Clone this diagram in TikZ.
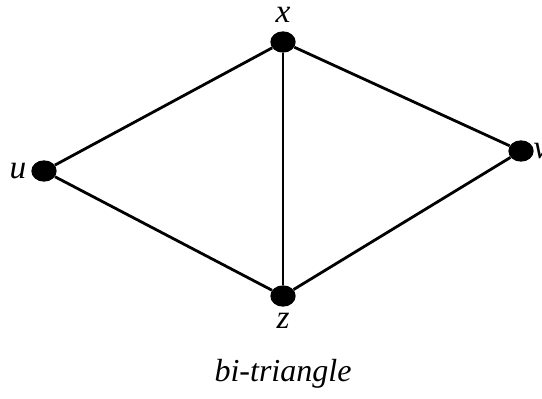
\documentclass[tikz,border=0pt]{standalone}
\usepackage{fontspec}
\setmainfont{Liberation Serif}
\usetikzlibrary{shapes.geometric}

\tikzset{
	vtx/.style={ellipse, fill=black, inner sep=0pt, minimum width=19pt, minimum height=16pt},
	lbl/.style={font=\fontsize{25}{29}\selectfont\itshape, inner sep=0pt},
	edge/.style={line width=2.1pt}
}

\begin{document}
\begin{tikzpicture}[x=0.75pt, y=-0.75pt]
	\useasboundingbox (0,0) rectangle (542,399);
	% the four vertices
	\node[vtx] (x) at (283,42) {};
	\node[vtx] (u) at (44,171) {};
	\node[vtx] (v) at (521,151) {};
	\node[vtx] (z) at (283,296) {};
	\node[lbl] (xl) at (283,15) {x};
	\node[lbl] (ul) at (18,171) {u};
	\node[lbl] (vl) at (541,151) {v};
	\node[lbl] (zl) at (283,321) {z};
	% edges of the two triangles
	\draw[edge] (u) -- (x) -- (v) -- (z) -- (u);
	\draw[edge] (x) -- (z);
	\node[lbl, font=\fontsize{24}{28}\selectfont\itshape] (cap) at (283,374) {bi-triangle};
\end{tikzpicture}
\end{document}
